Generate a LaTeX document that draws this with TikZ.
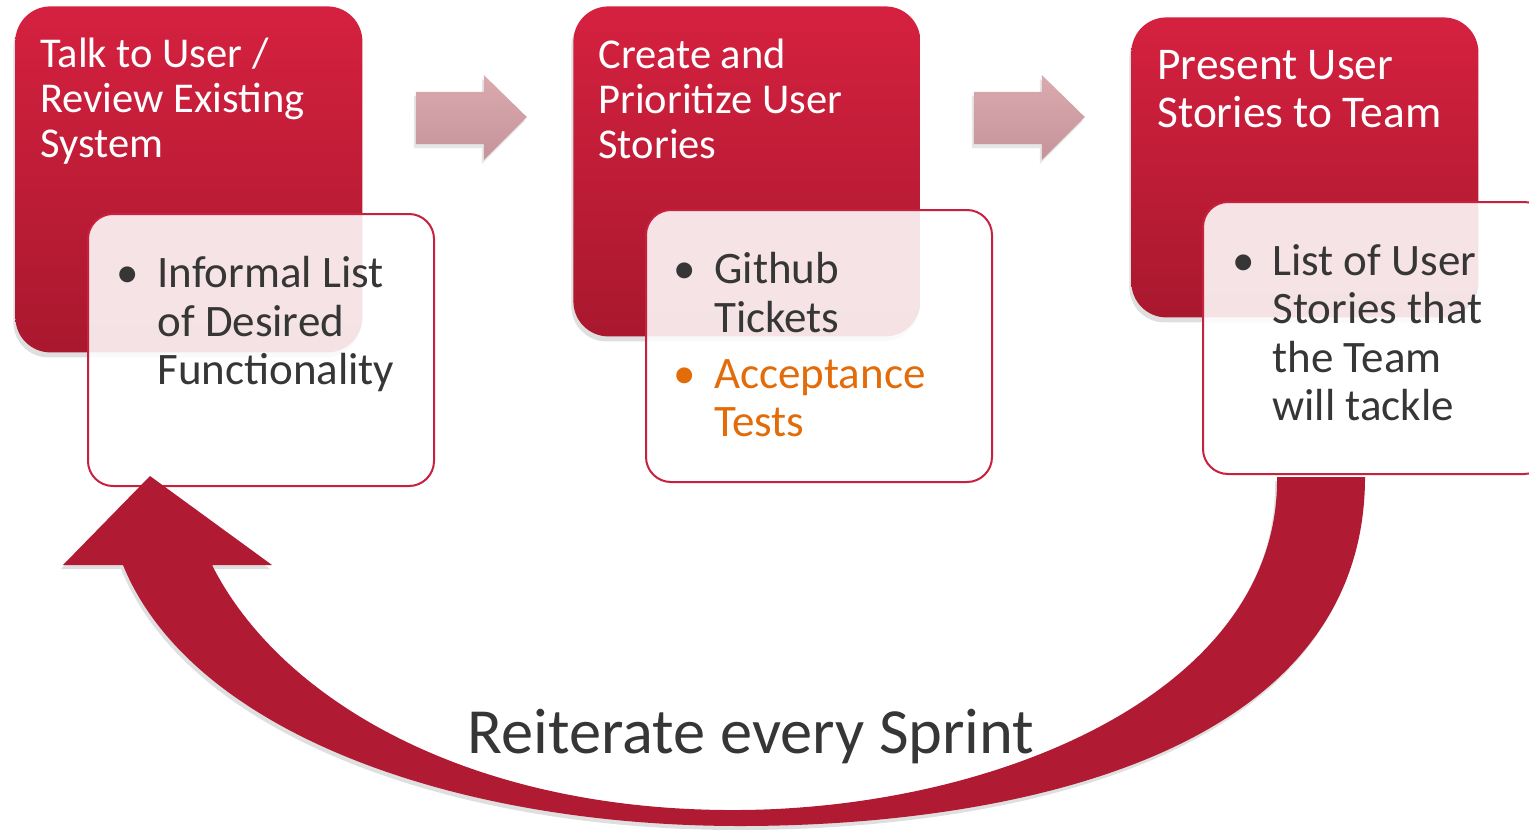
\documentclass[tikz,border=0pt]{standalone}
\usepackage{fontspec}
\setmainfont{Carlito}
\usetikzlibrary{positioning,shadows}
\definecolor{boxtop}{HTML}{D52140}
\definecolor{boxbot}{HTML}{A9182E}
\definecolor{panelline}{HTML}{C8203F}
\definecolor{loopred}{HTML}{B01A33}
\definecolor{steptop}{HTML}{DAAAAF}
\definecolor{stepbot}{HTML}{C4949A}
\definecolor{darktext}{HTML}{363636}
\definecolor{accorange}{HTML}{E36C0A}

\begin{document}
\begin{tikzpicture}[x=0.5pt,y=-0.5pt,
    redbox/.style={rounded corners=17.5pt,top color=boxtop,bottom color=boxbot,
      minimum width=173.5pt,anchor=north west,inner sep=0pt,
      drop shadow={opacity=0.25,shadow xshift=-1pt,shadow yshift=-2.5pt}},
    panel/.style={rounded corners=12.5pt,draw=panelline,line width=1pt,fill=white,
      fill opacity=0.88,minimum width=173pt,minimum height=136pt,
      anchor=north west,inner sep=0pt},
    boxtext/.style={anchor=north west,inner sep=0pt,align=left,text=white,
      font=\fontsize{21.25}{22.5}\selectfont},
    itemtext/.style={anchor=north west,inner sep=0pt,align=left,text=darktext,
      font=\fontsize{22.5}{24.25}\selectfont},
    blockarrow/.style={top color=steptop,bottom color=stepbot,
      drop shadow={opacity=0.2,shadow xshift=-1pt,shadow yshift=-2pt}},
    looparrow/.style={fill=loopred,
      drop shadow={opacity=0.25,shadow xshift=-1pt,shadow yshift=-2pt}}]
  \useasboundingbox (0,0) rectangle (1529,829);
  \clip (0,0) rectangle (1529,829);

  \node[redbox,minimum height=173pt] (A) at (15,6) {};
  \node[redbox,minimum height=165pt] (B) at (573,6) {};
  \node[redbox,minimum height=150pt] (C) at (1131,17) {};

  \node[panel] (PA) at (87,213) {};
  \node[panel] (PB) at (645,209) {};
  \node[panel] (PC) at (1202,201) {};

  \node[boxtext] (tA) at ([shift={(25,32)}]A.north west) {Talk to User /\\Review Existing\\System};
  \node[boxtext] (tB) at ([shift={(25,33)}]B.north west) {Create and\\Prioritize User\\Stories};
  \node[boxtext,font=\fontsize{22.7}{24}\selectfont] (tC) at ([shift={(26,33)}]C.north west)
    {Present User\\Stories to Team};

  \node[itemtext] (iA) at ([shift={(70,43)}]PA.north west)
    {\llap{\textbullet\hspace{9pt}}Informal List\\of Desired\\Functionality};
  \node[itemtext] (iB) at ([shift={(69,43)}]PB.north west)
    {\llap{\textbullet\hspace{9pt}}Github\\Tickets};
  \node[itemtext,text=accorange] (iB2) at ([shift={(69,150)}]PB.north west)
    {\llap{\textbullet\hspace{9pt}}Acceptance\\Tests};
  \node[itemtext] (iC) at ([shift={(70,43)}]PC.north west)
    {\llap{\textbullet\hspace{9pt}}List of User\\Stories that\\the Team\\will tackle};

  \foreach \s in {A,B}
    \path[blockarrow] ([shift={(53,86)}]\s.north east) -- ++(68,0) -- ++(0,-17)
      -- ++(43,42) -- ++(-43,43) -- ++(0,-16) -- ++(-68,0) -- cycle;

  \path[looparrow] (1277,477) -- (1365,477)
    .. controls (1365,760) and (1000,826) .. (740,826)
    .. controls (450,826) and (190,730) .. (123,565)
    -- (63,565) -- (150,476) -- (272,565) -- (212,565)
    .. controls (280,700) and (470,812) .. (740,810)
    .. controls (1000,808) and (1280,690) .. (1277,477) -- cycle;

  \node[text=darktext,font=\fontsize{32.2}{38}\selectfont,anchor=base] (loop) at (751,753)
    {Reiterate every Sprint};
\end{tikzpicture}
\end{document}
